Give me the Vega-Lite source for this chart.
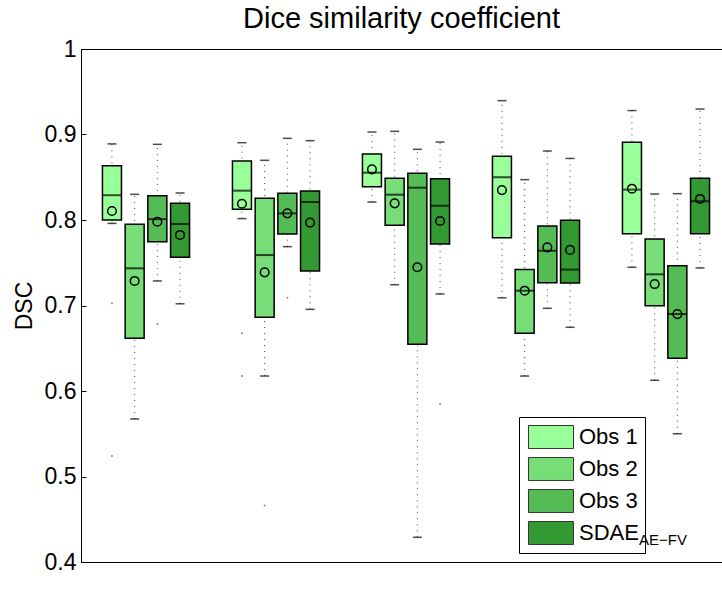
{
  "$schema": "https://vega.github.io/schema/vega-lite/v6.json",
  "width": 641,
  "height": 513,
  "autosize": {"type": "none"},
  "padding": {"left": 81, "top": 49, "right": 0, "bottom": 35},
  "background": "white",
  "title": {"text": "Dice similarity coefficient", "font": "Liberation Sans", "fontSize": 29, "fontWeight": "normal", "color": "black", "offset": 4},
  "datasets": {
    "boxes": [
      {"group": "O. Ner. (L)", "series": "Obs 1", "lo": 0.796, "q1": 0.800, "med": 0.829, "q3": 0.8635, "hi": 0.889, "mean": 0.8105},
      {"group": "O. Ner. (L)", "series": "Obs 2", "lo": 0.5673, "q1": 0.6616, "med": 0.7435, "q3": 0.795, "hi": 0.830, "mean": 0.7287},
      {"group": "O. Ner. (L)", "series": "Obs 3", "lo": 0.7287, "q1": 0.7747, "med": 0.801, "q3": 0.8285, "hi": 0.8885, "mean": 0.798},
      {"group": "O. Ner. (L)", "series": "SDAE", "lo": 0.702, "q1": 0.7563, "med": 0.7953, "q3": 0.8195, "hi": 0.8316, "mean": 0.7825},
      {"group": "O. Ner. (R)", "series": "Obs 1", "lo": 0.8016, "q1": 0.8125, "med": 0.8343, "q3": 0.869, "hi": 0.8904, "mean": 0.819},
      {"group": "O. Ner. (R)", "series": "Obs 2", "lo": 0.6175, "q1": 0.6862, "med": 0.759, "q3": 0.8254, "hi": 0.8698, "mean": 0.7388},
      {"group": "O. Ner. (R)", "series": "Obs 3", "lo": 0.7688, "q1": 0.7836, "med": 0.8078, "q3": 0.8312, "hi": 0.8955, "mean": 0.8078},
      {"group": "O. Ner. (R)", "series": "SDAE", "lo": 0.6955, "q1": 0.7404, "med": 0.821, "q3": 0.834, "hi": 0.8928, "mean": 0.797},
      {"group": "Pit. gland", "series": "Obs 1", "lo": 0.821, "q1": 0.839, "med": 0.8553, "q3": 0.8772, "hi": 0.9029, "mean": 0.8593},
      {"group": "Pit. gland", "series": "Obs 2", "lo": 0.7243, "q1": 0.7938, "med": 0.8296, "q3": 0.8488, "hi": 0.9037, "mean": 0.8195},
      {"group": "Pit. gland", "series": "Obs 3", "lo": 0.4289, "q1": 0.6546, "med": 0.8378, "q3": 0.8546, "hi": 0.8827, "mean": 0.7447},
      {"group": "Pit. gland", "series": "SDAE", "lo": 0.7135, "q1": 0.772, "med": 0.8167, "q3": 0.8483, "hi": 0.8912, "mean": 0.7988},
      {"group": "Pit. stalk", "series": "Obs 1", "lo": 0.709, "q1": 0.7793, "med": 0.850, "q3": 0.8745, "hi": 0.9396, "mean": 0.835},
      {"group": "Pit. stalk", "series": "Obs 2", "lo": 0.6175, "q1": 0.6675, "med": 0.7173, "q3": 0.742, "hi": 0.8472, "mean": 0.7173},
      {"group": "Pit. stalk", "series": "Obs 3", "lo": 0.6967, "q1": 0.7267, "med": 0.764, "q3": 0.793, "hi": 0.8807, "mean": 0.768},
      {"group": "Pit. stalk", "series": "SDAE", "lo": 0.6745, "q1": 0.7263, "med": 0.742, "q3": 0.7996, "hi": 0.872, "mean": 0.765},
      {"group": "Chiasm", "series": "Obs 1", "lo": 0.7447, "q1": 0.784, "med": 0.8355, "q3": 0.891, "hi": 0.928, "mean": 0.8366},
      {"group": "Chiasm", "series": "Obs 2", "lo": 0.6125, "q1": 0.6998, "med": 0.7365, "q3": 0.7778, "hi": 0.8304, "mean": 0.7251},
      {"group": "Chiasm", "series": "Obs 3", "lo": 0.55, "q1": 0.6382, "med": 0.690, "q3": 0.7466, "hi": 0.8308, "mean": 0.690},
      {"group": "Chiasm", "series": "SDAE", "lo": 0.7439, "q1": 0.784, "med": 0.8219, "q3": 0.8488, "hi": 0.9298, "mean": 0.8246}
    ],
    "outliers": [
      {"group": "O. Ner. (L)", "series": "Obs 1", "value": 0.7025},
      {"group": "O. Ner. (L)", "series": "Obs 1", "value": 0.524},
      {"group": "O. Ner. (L)", "series": "Obs 3", "value": 0.678},
      {"group": "O. Ner. (R)", "series": "Obs 1", "value": 0.6675},
      {"group": "O. Ner. (R)", "series": "Obs 1", "value": 0.6175},
      {"group": "O. Ner. (R)", "series": "Obs 2", "value": 0.466},
      {"group": "O. Ner. (R)", "series": "Obs 3", "value": 0.709},
      {"group": "Pit. gland", "series": "SDAE", "value": 0.5848}
    ]
  },
  "encoding": {
    "x": {"field": "group", "type": "nominal", "sort": ["O. Ner. (L)", "O. Ner. (R)", "Pit. gland", "Pit. stalk", "Chiasm"], "scale": {"range": [0, 650], "paddingInner": 0, "paddingOuter": 0}, "axis": null},
    "xOffset": {"field": "series", "type": "nominal", "sort": ["Obs 1", "Obs 2", "Obs 3", "SDAE"], "scale": {"paddingInner": 0, "paddingOuter": 0.8634}}
  },
  "layer": [
    {
      "data": {"name": "boxes"},
      "mark": {"type": "rule", "color": "#444444", "strokeWidth": 1},
      "encoding": {
        "y": {"field": "lo", "type": "quantitative", "title": "DSC", "scale": {"domain": [0.4, 1], "nice": false, "zero": false}},
        "y2": {"field": "hi"},
        "strokeDash": {"datum": "AE−FV", "type": "nominal", "scale": {"range": [[1, 5]]}, "legend": {"orient": "none", "legendX": 543, "legendY": 483, "zindex": 2, "title": null, "padding": 0, "symbolSize": 1, "symbolOpacity": 0, "labelOffset": 0, "labelFont": "Liberation Sans", "labelFontSize": 15, "labelColor": "black"}}
      }
    },
    {
      "data": {"name": "boxes"},
      "mark": {"type": "tick", "color": "black", "size": 9, "thickness": 1.5, "orient": "horizontal"},
      "encoding": {
        "y": {"field": "lo", "type": "quantitative", "title": "DSC"}
      }
    },
    {
      "data": {"name": "boxes"},
      "mark": {"type": "tick", "color": "black", "size": 9, "thickness": 1.5, "orient": "horizontal"},
      "encoding": {
        "y": {"field": "hi", "type": "quantitative", "title": "DSC"}
      }
    },
    {
      "data": {"name": "boxes"},
      "mark": {"type": "bar", "width": 19, "stroke": "black", "strokeWidth": 1.5},
      "encoding": {
        "x": {"field": "group", "type": "nominal", "sort": ["O. Ner. (L)", "O. Ner. (R)", "Pit. gland", "Pit. stalk", "Chiasm"], "axis": {"orient": "bottom", "title": null, "labelAngle": 0, "labelPadding": 12}},
        "y": {"field": "q1", "type": "quantitative", "title": "DSC", "axis": {"values": [0.4, 0.5, 0.6, 0.7, 0.8, 0.9, 1], "format": "~g", "labelPadding": 10, "titlePadding": 8}},
        "y2": {"field": "q3"},
        "fill": {"field": "series", "type": "nominal", "scale": {"domain": ["Obs 1", "Obs 2", "Obs 3", "SDAE"], "range": ["#99ff99", "#77dd77", "#55bb55", "#339933"]},
          "legend": {"orient": "none", "legendX": 438, "legendY": 368, "zindex": 1, "title": null, "fillColor": "white", "strokeColor": "black", "padding": 6, "rowPadding": 4,
            "symbolType": "M-0.778,-0.85H2.556V0.85H-0.778Z", "symbolSize": 729, "symbolStrokeColor": "#333333", "symbolStrokeWidth": 1, "symbolOpacity": 1,
            "labelOffset": 26, "labelFont": "Liberation Sans", "labelFontSize": 22, "labelColor": "black",
            "labelExpr": "datum.label == 'SDAE' ? 'SDAE\u00a0\u00a0\u00a0\u00a0\u00a0\u00a0\u00a0\u00a0\u00a0\u00a0' : datum.label"}}
      }
    },
    {
      "data": {"name": "boxes"},
      "mark": {"type": "tick", "color": "black", "size": 19, "thickness": 2, "orient": "horizontal"},
      "encoding": {
        "y": {"field": "med", "type": "quantitative", "title": "DSC"}
      }
    },
    {
      "data": {"name": "boxes"},
      "mark": {"type": "point", "shape": "circle", "filled": false, "stroke": "black", "strokeWidth": 1.5, "size": 75, "opacity": 1},
      "encoding": {
        "y": {"field": "mean", "type": "quantitative", "title": "DSC"}
      }
    },
    {
      "data": {"name": "outliers"},
      "mark": {"type": "point", "shape": "circle", "filled": true, "color": "#888888", "size": 4, "opacity": 1},
      "encoding": {
        "y": {"field": "value", "type": "quantitative", "title": "DSC"}
      }
    }
  ],
  "config": {
    "view": {"stroke": "black", "strokeWidth": 1},
    "axis": {"labelFont": "Liberation Sans", "labelFontSize": 23, "labelColor": "black", "titleFont": "Liberation Sans", "titleFontSize": 23, "titleFontWeight": "normal", "titleColor": "black", "domainColor": "black", "domainWidth": 1, "tickColor": "black", "tickWidth": 1, "tickSize": -5, "grid": false}
  }
}
